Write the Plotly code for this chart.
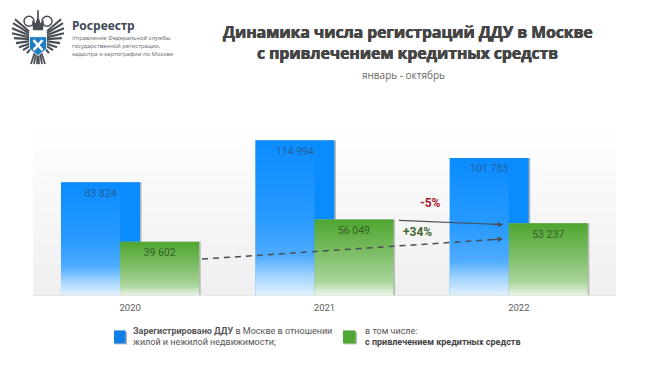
import plotly.graph_objects as go

years = [2020, 2021, 2022]
total_regs = [83824, 114994, 101783]
credit_regs = [39602, 56049, 53237]
total_labels = ["83 824", "114 994", "101 783"]
credit_labels = ["39 602", "56 049", "53 237"]
change_total = "-5%"
change_credit = "+34%"

W, H = 650, 367
L, R, T, B = 33, 616, 100, 295.5
BAR_W = 0.407
OFF_BLUE = -0.356
OFF_GREEN = -0.052
PX_PER_UNIT = 1.35 / 1000


def fx(x):
    return (x - L) / (R - L)


def fy(y):
    return (B - y) / (B - T)


fig = go.Figure()

blue, green = "#0a8cff", "#4ea62f"
shadow = "#bcbcbc"
sh_off = 1.6 / 194

# shadows and bars
fig.add_bar(x=years, y=total_regs, width=BAR_W, offset=OFF_BLUE + sh_off,
            marker=dict(color=shadow, line_width=0), hoverinfo="skip")
fig.add_bar(x=years, y=total_regs, width=BAR_W, offset=OFF_BLUE,
            marker=dict(color=blue, line_width=0), name="total")
fig.add_bar(x=years, y=credit_regs, width=BAR_W, offset=OFF_GREEN + sh_off,
            marker=dict(color=shadow, line_width=0), hoverinfo="skip")
fig.add_bar(x=years, y=credit_regs, width=BAR_W, offset=OFF_GREEN,
            marker=dict(color=green, line_width=0), name="credit")

# white fade overlays built from the values
blue_fade = [[0, "rgba(255,255,255,0.88)"], [0.13, "rgba(255,255,255,0.6)"],
             [0.25, "rgba(255,255,255,0.28)"], [0.5, "rgba(255,255,255,0.12)"],
             [1, "rgba(255,255,255,0)"]]
green_fade = [[0, "rgba(255,255,255,0.88)"], [0.18, "rgba(255,255,255,0.52)"],
              [0.5, "rgba(255,255,255,0.3)"], [1, "rgba(255,255,255,0)"]]
for yr, tv, cv in zip(years, total_regs, credit_regs):
    x0 = yr + OFF_BLUE
    x1 = yr + OFF_GREEN
    fig.add_scatter(x=[x0, x0, x1, x1, x0], y=[0, tv, tv, 0, 0], mode="lines", line_width=0,
                    fill="toself", hoverinfo="skip",
                    fillgradient=dict(type="vertical", colorscale=blue_fade, start=0, stop=tv))
    x0 = yr + OFF_GREEN
    x1 = x0 + BAR_W
    fig.add_scatter(x=[x0, x0, x1, x1, x0], y=[0, cv, cv, 0, 0], mode="lines", line_width=0,
                    fill="toself", hoverinfo="skip",
                    fillgradient=dict(type="vertical", colorscale=green_fade, start=0, stop=cv))

# value labels
fig.add_scatter(x=[y + OFF_BLUE + BAR_W / 2 for y in years], y=total_regs, mode="markers+text",
                marker=dict(size=9, opacity=0),
                text=total_labels, textposition="bottom center", hoverinfo="skip",
                textfont=dict(family="Roboto", size=10.5, color="#24609c"))
fig.add_scatter(x=[y + OFF_GREEN + BAR_W / 2 for y in years], y=credit_regs, mode="markers+text",
                marker=dict(size=9, opacity=0),
                text=credit_labels, textposition="bottom center", hoverinfo="skip",
                textfont=dict(family="Roboto", size=10.5, color="#35602a"))

shapes = []
# background gradient panel
n = 16
top = 128
for i in range(n):
    y0 = top + (B - top) * i / n
    y1 = top + (B - top) * (i + 1) / n
    g = 255 - round(16 * (i + 1) / n)
    shapes.append(dict(type="rect", xref="paper", yref="paper", layer="below",
                       x0=0, x1=1, y0=fy(y0), y1=fy(y1),
                       fillcolor=f"rgb({g},{g},{g})", line_width=0))

# dashed and solid trend lines
dark = "#4a4f55"
shapes.append(dict(type="line", xref="paper", yref="paper", x0=fx(202), y0=fy(259.5),
                   x1=fx(500), y1=fy(239.5), line=dict(color=dark, width=1.5, dash="6px,5px")))
shapes.append(dict(type="line", xref="paper", yref="paper", x0=fx(399), y0=fy(220.7),
                   x1=fx(500), y1=fy(224.8), line=dict(color=dark, width=1.2)))

# legend swatches
shapes.append(dict(type="rect", xref="paper", yref="paper", x0=fx(115), x1=fx(127), y0=fy(332.5),
                   y1=fy(345), fillcolor="#aab0b6", line_width=0))
shapes.append(dict(type="rect", xref="paper", yref="paper", x0=fx(114), x1=fx(125.5), y0=fy(331),
                   y1=fy(344), fillcolor="#1080e8", line_width=0))
shapes.append(dict(type="rect", xref="paper", yref="paper", x0=fx(344), x1=fx(357), y0=fy(332.5),
                   y1=fy(345), fillcolor="#b4bcae", line_width=0))
shapes.append(dict(type="rect", xref="paper", yref="paper", x0=fx(343), x1=fx(355.5), y0=fy(331),
                   y1=fy(344), fillcolor="#50a832", line_width=0))


# emblem
def path(points, close=True):
    s = "M " + " L ".join(f"{fx(x):.4f},{fy(y):.4f}" for x, y in points)
    return s + (" Z" if close else "")


em = "#484d54"
cx = 38
feathers = [((29, 31), (15, 19)), ((29, 33), (13, 23)), ((29, 35), (12, 28)), ((29, 37), (12, 33)),
            ((30, 39), (14, 38)), ((30, 41), (16, 43)), ((31, 43), (19, 47)), ((31, 45), (23, 50)),
            ((32, 47), (27, 53))]
for (ax, ay), (bx, by) in feathers:
    for sign in (-1, 1):
        p = [(cx + sign * (ax - cx), ay), (cx + sign * (bx - cx), by)]
        shapes.append(dict(type="path", xref="paper", yref="paper", path=path(p, False),
                           line=dict(color=em, width=2.1)))
for dx, ytop in ((-9, 21), (9, 21)):
    shapes.append(dict(type="circle", xref="paper", yref="paper",
                       x0=fx(cx + dx - 5), x1=fx(cx + dx + 5), y0=fy(ytop - 5), y1=fy(ytop + 5),
                       line=dict(color=em, width=1.5)))
shapes.append(dict(type="path", xref="paper", yref="paper", fillcolor=em, line_width=0,
                   path=path([(cx - 5, 30), (cx - 6, 20), (cx - 2.5, 23), (cx, 15), (cx + 2.5, 23),
                              (cx + 6, 20), (cx + 5, 30)])))
shapes.append(dict(type="line", xref="paper", yref="paper", x0=fx(cx), x1=fx(cx), y0=fy(10),
                   y1=fy(17), line=dict(color=em, width=1.6)))
for dx in (-7, -4, -1, 1, 4, 7):
    shapes.append(dict(type="line", xref="paper", yref="paper", x0=fx(cx + dx / 2), x1=fx(cx + dx),
                       y0=fy(53), y1=fy(64), line=dict(color=em, width=1.7)))
shapes.append(dict(type="path", xref="paper", yref="paper", fillcolor="#1e7fc4",
                   line=dict(color="#ffffff", width=0.8),
                   path=path([(cx - 8.5, 36.5), (cx + 8.5, 36.5), (cx + 8.5, 49), (cx, 55.5), (cx - 8.5, 49)])))
for a, b in (((-4.5, 40), (4.5, 50)), ((4.5, 40), (-4.5, 50))):
    shapes.append(dict(type="line", xref="paper", yref="paper", x0=fx(cx + a[0]), x1=fx(cx + b[0]),
                       y0=fy(a[1]), y1=fy(b[1]), line=dict(color="#ffffff", width=2.4)))


def note(x, y, text, size, color, anchor="left", family="Open Sans", heavy=False):
    font = dict(family=family, size=size, color=color)
    if heavy:
        font["shadow"] = f"0.35px 0 0 {color}, -0.35px 0 0 {color}"
    return dict(xref="paper", yref="paper", x=fx(x), y=fy(y), text=text, showarrow=False,
                xanchor=anchor, yanchor="middle", align=anchor, font=font)


TITLE = "Динамика числа регистраций ДДУ в Москве"
annotations = [
    note(407.5, 31.5, f"<b>{TITLE}</b>", 15.7, "#454545", "center", heavy=True),
    note(407.5, 52.5, "<b>с привлечением кредитных средств</b>", 15.7, "#454545", "center", heavy=True),
    note(403.5, 75, "январь - октябрь", 10, "#666666", "center"),
    note(70, 25.7, "<b>Росреестр</b>", 12, "#3f4a58", family="Noto Sans"),
    note(70, 37.4, "Управление Федеральной службы", 5.9, "#6d747c", family="Noto Sans"),
    note(70, 45.4, "государственной регистрации,", 5.9, "#6d747c", family="Noto Sans"),
    note(70, 53.4, "кадастра и картографии по Москве", 5.9, "#6d747c", family="Noto Sans"),
    note(430.5, 203.5, f"<b>{change_total}</b>", 12, "#a8202c", "center", "Roboto"),
    note(417.5, 232, f"<b>{change_credit}</b>", 12, "#3f6a2c", "center", "Roboto"),
    note(131, 331.7, "<b>Зарегистрировано ДДУ</b> в Москве в отношении", 9, "#555555", family="Roboto"),
    note(131, 343, "жилой и нежилой недвижимости;", 9, "#555555", family="Roboto"),
    note(363, 331.7, "в том числе:", 9, "#555555", family="Roboto"),
    note(363, 343, "<b>с привлечением кредитных средств</b>", 9, "#444444", family="Roboto"),
]
# arrowheads
for x0, y0, x1, y1 in ((490, 224.4, 503, 225), (490, 240.2, 503, 239.3)):
    annotations.append(dict(xref="paper", yref="paper", x=fx(x1), y=fy(y1), ax=x0 - x1, ay=y0 - y1,
                            axref="pixel", ayref="pixel", text="", showarrow=True, arrowhead=2,
                            arrowsize=0.9, arrowwidth=1.2, arrowcolor=dark))

fig.update_layout(
    width=W, height=H, barmode="overlay", showlegend=False,
    paper_bgcolor="white", plot_bgcolor="rgba(0,0,0,0)",
    margin=dict(l=L, r=W - R, t=T, b=H - B, pad=0, autoexpand=False),
    shapes=shapes, annotations=annotations,
    xaxis=dict(range=[2019.5, 2022.5], tickvals=years, ticktext=[str(y) for y in years],
               showgrid=False, zeroline=False, showline=True, linecolor="#e4e4e4", linewidth=1,
               ticks="outside", ticklen=4, tickcolor="rgba(0,0,0,0)",
               tickfont=dict(family="Roboto", size=9.5, color="#5a5a5a")),
    yaxis=dict(range=[0, (B - T) / PX_PER_UNIT], visible=False, showgrid=False, zeroline=False),
)
fig.write_html("out.html", config={"displayModeBar": False},
               post_script="document.body.style.margin='0';document.documentElement.style.overflow='hidden';")
